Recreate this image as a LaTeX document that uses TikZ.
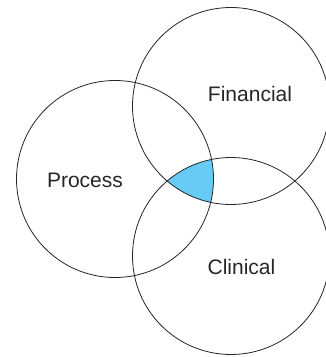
\documentclass[tikz,border=0pt]{standalone}
\usepackage{fontspec}
\setmainfont{Liberation Sans}
\definecolor{overlap}{RGB}{102,204,245}
\tikzset{
	venn/.style={line width=0.8pt, draw=black!85},
	area/.style={font=\fontsize{21}{25}\selectfont, text=black!85}
}

\begin{document}
\begin{tikzpicture}[x=1pt,y=1pt]
	\useasboundingbox (0,0) rectangle (326,357);
	\coordinate (fin) at (231,251);
	\coordinate (pro) at (115,178);
	\coordinate (cli) at (231,101);
	% common part of all three
	\begin{scope}
		\clip (fin) circle (98.5);
		\clip (pro) circle (98.5);
		\fill[overlap] (cli) circle (98.5);
	\end{scope}
	\begin{scope}[venn]
		\draw (fin) circle (98.5);
		\draw (pro) circle (98.5);
		\draw (cli) circle (98.5);
	\end{scope}
	\node[area] (finlabel) at (250,263.5) {Financial};
	\node[area] (prolabel) at (85,177) {Process};
	\node[area] (clilabel) at (241.5,90.5) {Clinical};
\end{tikzpicture}
\end{document}
